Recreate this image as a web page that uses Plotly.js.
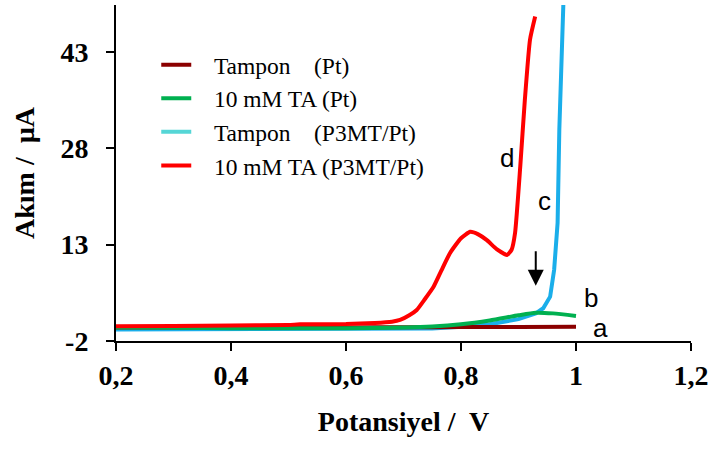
<!DOCTYPE html>
<html>
<head>
<meta charset="utf-8">
<script src="https://cdn.plot.ly/plotly-3.0.1.min.js"></script>
<style>html,body{margin:0;padding:0;background:#fff;}#chart{width:712px;height:450px;}</style>
</head>
<body>
<div id="chart"></div>
<script>
// Series names
const nameA = "\u00a0\u00a0\u00a0Tampon    (Pt)";
const nameB = "\u00a0\u00a0\u00a010 mM TA (Pt)";
const nameC = "\u00a0\u00a0\u00a0Tampon    (P3MT/Pt)";
const nameD = "\u00a0\u00a0\u00a010 mM TA (P3MT/Pt)";

// a: Tampon (Pt)
const xA = [0.2, 0.3, 0.4, 0.5, 0.6, 0.7, 0.8, 0.9, 1.0];
const yA = [0.1, 0.1, 0.1, 0.12, 0.12, 0.14, 0.16, 0.18, 0.2];

// b: 10 mM TA (Pt)
const xB = [0.2, 0.3, 0.4, 0.5, 0.6, 0.7, 0.75, 0.8, 0.85, 0.9, 0.93, 0.96, 1.0];
const yB = [0.1, 0.05, 0.0, 0.0, 0.0, 0.1, 0.25, 0.6, 1.2, 2.0, 2.4, 2.3, 1.9];

// c: Tampon (P3MT/Pt)
const xC = [0.2, 0.3, 0.4, 0.5, 0.6, 0.7, 0.75, 0.8, 0.85, 0.9, 0.93, 0.943, 0.955, 0.962, 0.968, 0.971, 0.977, 0.98];
const yC = [-0.2, -0.2, -0.2, -0.2, -0.2, -0.15, -0.05, 0.2, 0.6, 1.4, 2.3, 3.1, 4.9, 9.1, 16.4, 30.9, 50.3, 56];

// d: 10 mM TA (P3MT/Pt)
const xD = [0.2, 0.3, 0.4, 0.5, 0.52, 0.6, 0.65, 0.68, 0.694, 0.71, 0.723, 0.737, 0.752, 0.766, 0.781, 0.8, 0.816, 0.83, 0.845, 0.862, 0.88, 0.888, 0.894, 0.903, 0.911, 0.92, 0.929];
const yD = [0.3, 0.35, 0.4, 0.5, 0.6, 0.65, 0.8, 1.0, 1.27, 2.0, 2.83, 4.5, 6.4, 9.0, 11.7, 14.0, 15.0, 14.6, 13.7, 12.3, 11.4, 12.2, 14.8, 25.1, 35.5, 44.9, 48.5];

// Tick labels
const xTickVals = [0.2, 0.4, 0.6, 0.8, 1.0, 1.2];
const xTickText = ["0,2", "0,4", "0,6", "0,8", "1", "1,2"];
const yTickVals = [-2, 13, 28, 43];
const yTickText = ["-2", "13", "28", "43"];

// Curve labels
const labelText = ["d", "c", "b", "a"];
const labelX = [0.880, 0.946, 1.026, 1.043];
const labelY = [26.5, 19.8, 4.7, 0.02];

// Arrow
const arrowX = 0.930;
const arrowY = 6.6;

const serif = "Liberation Serif, Times New Roman, serif";

const traces = [
  {x: xC, y: yC, name: nameC, mode: "lines", line: {color: "#1aaeea", width: 4}, showlegend: false},
  {x: xA, y: yA, name: nameA, mode: "lines", line: {color: "#8b0000", width: 4, shape: "spline", smoothing: 0.6}, legendgroup: "a"},
  {x: xB, y: yB, name: nameB, mode: "lines", line: {color: "#00b050", width: 4, shape: "spline", smoothing: 0.6}, legendgroup: "b"},
  {x: [null], y: [null], name: nameC, mode: "lines", line: {color: "#55d6d6", width: 4}, legendgroup: "c"},
  {x: xD, y: yD, name: nameD, mode: "lines", line: {color: "#ff0000", width: 4, shape: "spline", smoothing: 0.5}, legendgroup: "d"}
];

const annotations = labelText.map((t, i) => ({
  x: labelX[i], y: labelY[i], xref: "x", yref: "y", text: t, showarrow: false,
  font: {family: "Liberation Sans, Arial, sans-serif", size: 26, color: "#000"}
}));
annotations.push({
  x: arrowX, y: arrowY, xref: "x", yref: "y", text: "", showarrow: true,
  ax: 0, ay: -36, arrowhead: 2, arrowsize: 1.6, arrowwidth: 2, arrowcolor: "#000"
});

const layout = {
  width: 712, height: 450,
  margin: {l: 116, r: 21, t: 5, b: 109},
  paper_bgcolor: "#fff", plot_bgcolor: "#fff",
  showlegend: true,
  legend: {x: 0.070, y: 0.887, xanchor: "left", yanchor: "top", bgcolor: "rgba(0,0,0,0)",
    font: {family: serif, size: 23.5, color: "#000"}, itemwidth: 30, tracegroupgap: 0, traceorder: "grouped"},
  xaxis: {
    range: [0.2, 1.2], tickvals: xTickVals, ticktext: xTickText,
    showgrid: false, zeroline: false, showline: true, linecolor: "#000", linewidth: 2,
    ticks: "outside", ticklen: 8, tickwidth: 2, tickcolor: "#000",
    tickfont: {family: serif, size: 28, color: "#000", weight: "bold"},
    title: {text: "Potansiyel /  V", font: {family: serif, size: 28, color: "#000", weight: "bold"}, standoff: 22}
  },
  yaxis: {
    range: [-2, 50.3], tickvals: yTickVals, ticktext: yTickText,
    showgrid: false, zeroline: false, showline: true, linecolor: "#000", linewidth: 2,
    ticks: "outside", ticklen: 8, tickwidth: 2, tickcolor: "#000", ticklabelstandoff: 12,
    tickfont: {family: serif, size: 28, color: "#000", weight: "bold"},
    title: {text: "Akım /  µA", font: {family: serif, size: 28, color: "#000", weight: "bold"}, standoff: 18}
  },
  annotations: annotations
};

Plotly.newPlot("chart", traces, layout, {displayModeBar: false, staticPlot: true});
</script>
</body>
</html>
